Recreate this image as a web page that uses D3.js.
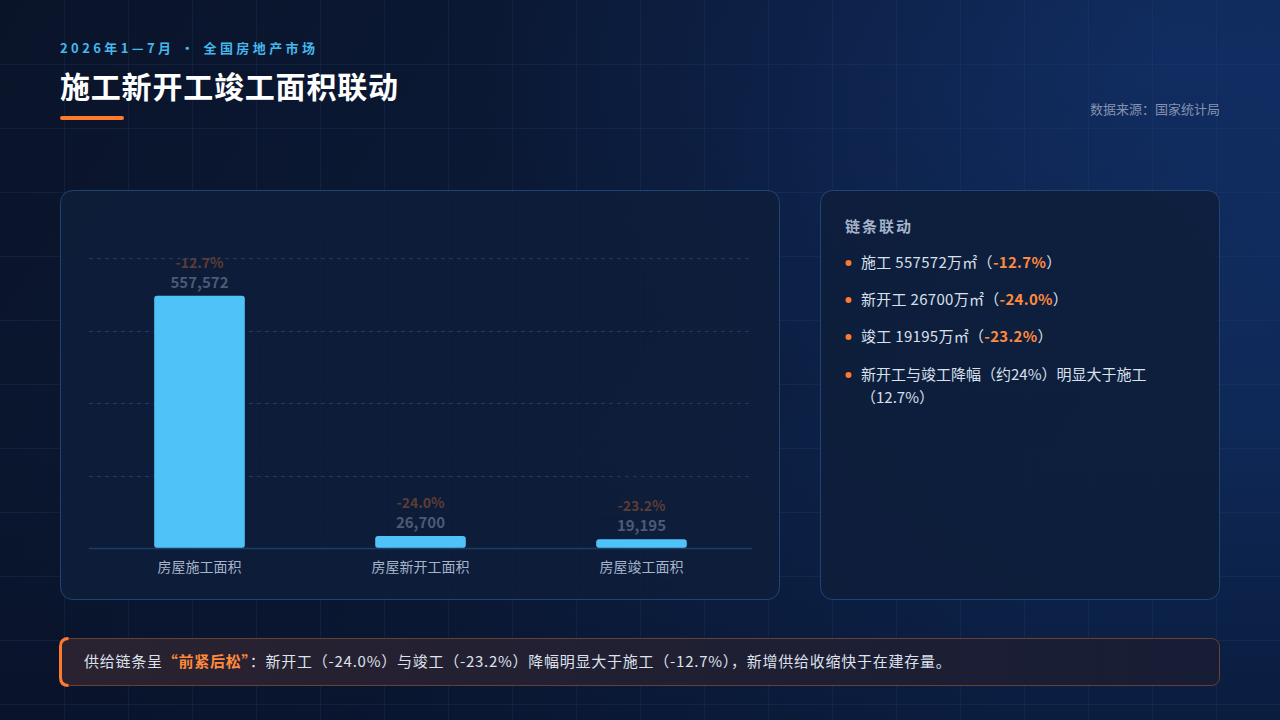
<!DOCTYPE html>
<html><head><meta charset="utf-8">
<script src="https://cdn.jsdelivr.net/npm/d3@7"></script>
<style>
html,body{margin:0;padding:0;background:#0a1630;}
svg{display:block;font-family:"Noto Sans CJK SC","Noto Sans",sans-serif;}
</style></head>
<body><svg id="c" width="1280" height="720"></svg>
<script>
// ---- data ----
const categories = ["房屋施工面积", "房屋新开工面积", "房屋竣工面积"];
const areaValues = [557572, 26700, 19195];        // 万㎡
const yoyChanges = [-12.7, -24.0, -23.2];          // %
const panelItems = [
  {pre: "施工 557572万㎡（", hi: "-12.7%", post: "）"},
  {pre: "新开工 26700万㎡（", hi: "-24.0%", post: "）"},
  {pre: "竣工 19195万㎡（", hi: "-23.2%", post: "）"}
];
const panelNote = ["新开工与竣工降幅（约24%）明显大于施工", "（12.7%）"];

const svg = d3.select("#c");
const defs = svg.append("defs");

// background
const bg = defs.append("linearGradient").attr("id","bg").attr("x1","0").attr("y1","0").attr("x2","1").attr("y2","0.35");
bg.append("stop").attr("offset","0%").attr("stop-color","#0a1429");
bg.append("stop").attr("offset","55%").attr("stop-color","#0b1a38");
bg.append("stop").attr("offset","100%").attr("stop-color","#0e2856");
const glow = defs.append("radialGradient").attr("id","glow").attr("cx","0.92").attr("cy","0.08").attr("r","0.55");
glow.append("stop").attr("offset","0%").attr("stop-color","#143472").attr("stop-opacity",0.55);
glow.append("stop").attr("offset","100%").attr("stop-color","#143472").attr("stop-opacity",0);
const shade = defs.append("linearGradient").attr("id","shade").attr("x1","0").attr("y1","0").attr("x2","0").attr("y2","1");
shade.append("stop").attr("offset","60%").attr("stop-color","#070f22").attr("stop-opacity",0);
shade.append("stop").attr("offset","100%").attr("stop-color","#070f22").attr("stop-opacity",0.45);
svg.append("rect").attr("width",1280).attr("height",720).attr("fill","url(#bg)");
svg.append("rect").attr("width",1280).attr("height",720).attr("fill","url(#glow)");
svg.append("rect").attr("width",1280).attr("height",720).attr("fill","url(#shade)");

// background grid
const grid = svg.append("g").attr("stroke","#2a4a7a").attr("stroke-opacity",0.22).attr("stroke-width",1);
d3.range(64,1280,64).forEach(x=>grid.append("line").attr("x1",x+0.5).attr("x2",x+0.5).attr("y1",0).attr("y2",720));
d3.range(64,720,64).forEach(y=>grid.append("line").attr("y1",y+0.5).attr("y2",y+0.5).attr("x1",0).attr("x2",1280));

// header
svg.append("text").attr("x",60).attr("y",53).attr("fill","#45b8ec")
  .attr("font-size",13).attr("font-weight",700).attr("letter-spacing","3.4px")
  .text("2026年1—7月 · 全国房地产市场");
svg.append("text").attr("x",60).attr("y",98).attr("fill","#ffffff")
  .attr("font-size",30).attr("font-weight",700).attr("letter-spacing","0.8px")
  .text("施工新开工竣工面积联动");
svg.append("rect").attr("x",60).attr("y",116).attr("width",64).attr("height",4).attr("rx",2).attr("fill","#ff7a2f");
svg.append("text").attr("x",1220).attr("y",114).attr("text-anchor","end").attr("fill","#8593ad")
  .attr("font-size",13).text("数据来源：国家统计局");

// cards
svg.append("rect").attr("x",60.5).attr("y",190.5).attr("width",719).attr("height",409).attr("rx",12)
  .attr("fill","#0e1d3a").attr("fill-opacity",0.85).attr("stroke","#1f4a7a").attr("stroke-opacity",0.9);
svg.append("rect").attr("x",820.5).attr("y",190.5).attr("width",399).attr("height",409).attr("rx",12)
  .attr("fill","#0e1d3a").attr("fill-opacity",0.85).attr("stroke","#1f4a7a").attr("stroke-opacity",0.9);

// chart
const plot = {left:89, right:752, top:258, bottom:548};
const x = d3.scaleBand().domain(categories).range([plot.left, plot.right]).padding(0);
const yMax = d3.max(areaValues) * 1.15;
const y = d3.scaleLinear().domain([0, yMax]).range([plot.bottom, plot.top]);
const gridVals = d3.range(1,5).map(i => yMax * i / 4);

const chart = svg.append("g");
chart.selectAll("line.g").data(gridVals).join("line").attr("class","g")
  .attr("x1",plot.left).attr("x2",plot.right)
  .attr("y1",d=>Math.round(y(d))+0.5).attr("y2",d=>Math.round(y(d))+0.5)
  .attr("stroke","#1d3a60").attr("stroke-dasharray","4,4").attr("stroke-width",1);

const barW = x.bandwidth()*0.41;
chart.selectAll("rect.bar").data(areaValues).join("rect").attr("class","bar")
  .attr("x",(d,i)=>x(categories[i]) + (x.bandwidth()-barW)/2)
  .attr("y",d=>y(d)).attr("width",barW).attr("height",d=>y(0)-y(d))
  .attr("rx",3).attr("fill","#4fc3f7");

chart.append("line").attr("x1",plot.left).attr("x2",plot.right)
  .attr("y1",plot.bottom+0.5).attr("y2",plot.bottom+0.5).attr("stroke","#1e3d66").attr("stroke-width",1.5);

const xAxis = d3.axisBottom(x).tickSize(0).tickPadding(14);
const xa = chart.append("g").attr("transform",`translate(0,${plot.bottom})`).call(xAxis);
xa.select(".domain").remove();
xa.selectAll("text").attr("fill","#a6b4cc").attr("font-size",14)
  .attr("font-family","'Noto Sans CJK SC','Noto Sans',sans-serif");

chart.selectAll("text.pct").data(yoyChanges).join("text").attr("class","pct")
  .attr("x",(d,i)=>x(categories[i])+x.bandwidth()/2)
  .attr("y",(d,i)=>y(areaValues[i]) - 28)
  .attr("text-anchor","middle").attr("font-size",14).attr("font-weight",700)
  .attr("fill","#5e3c33").text(d=>d.toFixed(1)+"%");
chart.selectAll("text.val").data(areaValues).join("text").attr("class","val")
  .attr("x",(d,i)=>x(categories[i])+x.bandwidth()/2)
  .attr("y",d=>y(d) - 8)
  .attr("text-anchor","middle").attr("font-size",15).attr("font-weight",700)
  .attr("fill","#4c5a74").text(d=>d3.format(",")(d));

// right panel
const p = svg.append("g");
p.append("text").attr("x",845).attr("y",232).attr("fill","#a6b4cc").attr("font-size",15)
  .attr("font-weight",700).attr("letter-spacing","2px").text("链条联动");
const rowY = [263, 300, 337, 375];
panelItems.forEach((it,i)=>{
  p.append("circle").attr("cx",848.5).attr("cy",rowY[i]).attr("r",3).attr("fill","#ff7a2f");
  const t = p.append("text").attr("x",861).attr("y",rowY[i]+5).attr("fill","#d8e0ec").attr("font-size",15).attr("letter-spacing","0.3px");
  t.append("tspan").text(it.pre);
  t.append("tspan").attr("fill","#ff8a3d").attr("font-weight",700).text(it.hi);
  t.append("tspan").text(it.post);
});
p.append("circle").attr("cx",848.5).attr("cy",rowY[3]).attr("r",3).attr("fill","#ff7a2f");
p.append("text").attr("x",861).attr("y",rowY[3]+5).attr("fill","#d8e0ec").attr("font-size",15).text(panelNote[0]);
p.append("text").attr("x",861).attr("y",rowY[3]+28).attr("fill","#d8e0ec").attr("font-size",15).text(panelNote[1]);

// bottom banner
const bn = svg.append("g");
const bgrad = defs.append("linearGradient").attr("id","bn").attr("x1","0").attr("x2","1");
bgrad.append("stop").attr("offset","0%").attr("stop-color","#2a2230");
bgrad.append("stop").attr("offset","100%").attr("stop-color","#171d35");
bn.append("rect").attr("x",60.5).attr("y",638.5).attr("width",1159).attr("height",47).attr("rx",8)
  .attr("fill","url(#bn)").attr("stroke","#6a3f34").attr("stroke-width",1);
bn.append("path").attr("d","M68.5,638.5 Q60.5,638.5 60.5,646.5 L60.5,677.5 Q60.5,685.5 68.5,685.5")
  .attr("fill","none").attr("stroke","#ff7a2f").attr("stroke-width",3);
const bt = bn.append("text").attr("x",84).attr("y",667).attr("fill","#dde2ec").attr("font-size",15).attr("letter-spacing","0.75px");
bt.append("tspan").text("供给链条呈");
bt.append("tspan").attr("fill","#ff8a3d").attr("font-weight",700).text("“前紧后松”");
bt.append("tspan").text("：新开工（-24.0%）与竣工（-23.2%）降幅明显大于施工（-12.7%），新增供给收缩快于在建存量。");
</script></body></html>
